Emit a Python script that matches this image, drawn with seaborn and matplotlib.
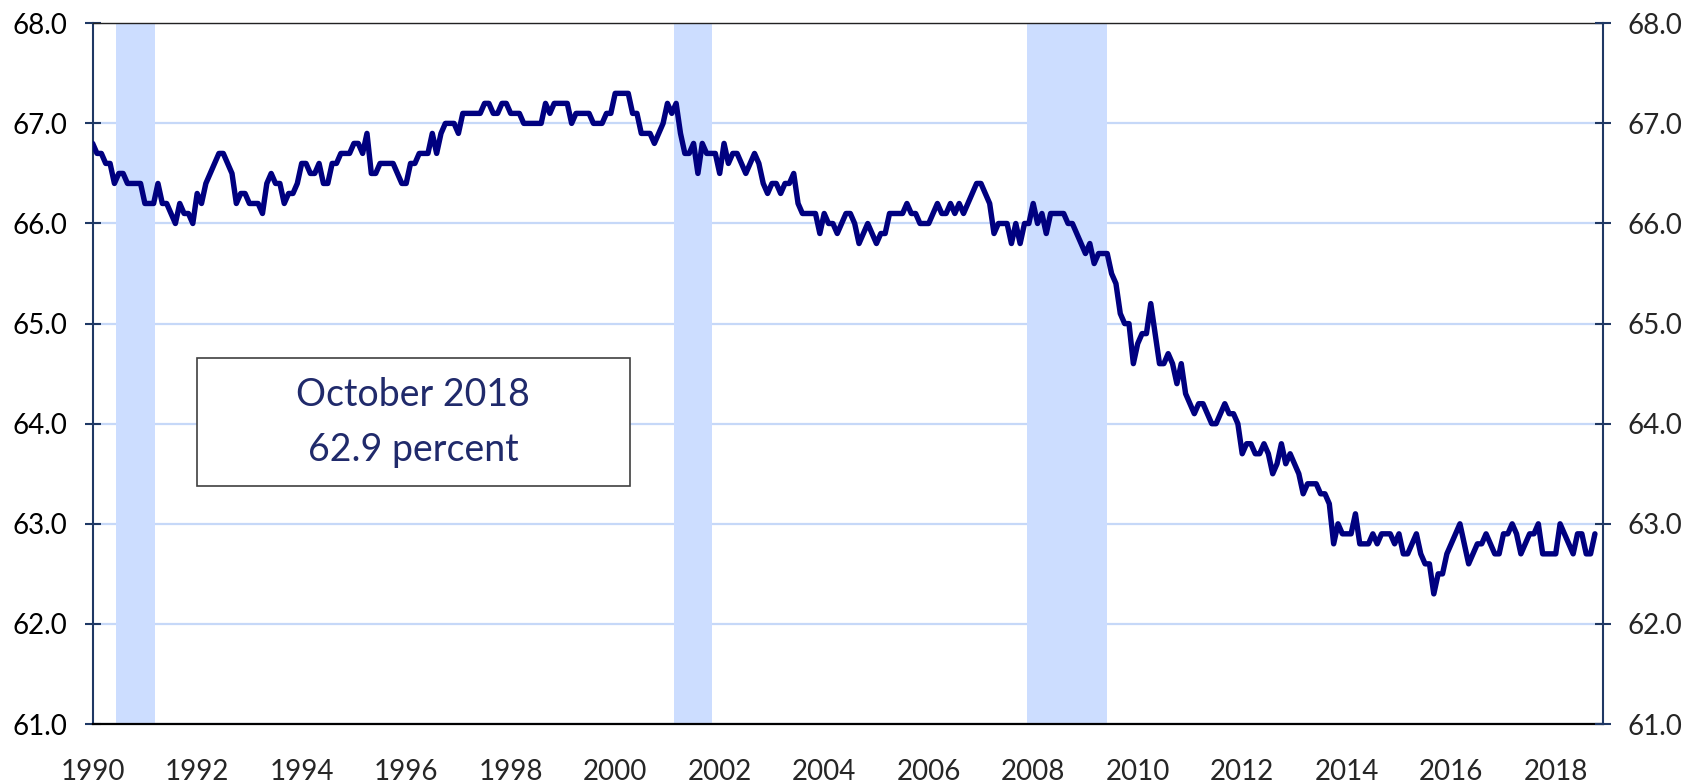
import numpy as np
import pandas as pd
import seaborn as sns
import matplotlib.pyplot as plt
from matplotlib.patches import Rectangle
from matplotlib.ticker import FormatStrFormatter

# taxa de participacao mensal (percent), jan 1990 - out 2018
taxa_1990 = [66.8, 66.7, 66.7, 66.6, 66.6, 66.4, 66.5, 66.5, 66.4, 66.4, 66.4, 66.4]
taxa_1991 = [66.2, 66.2, 66.2, 66.4, 66.2, 66.2, 66.1, 66.0, 66.2, 66.1, 66.1, 66.0]
taxa_1992 = [66.3, 66.2, 66.4, 66.5, 66.6, 66.7, 66.7, 66.6, 66.5, 66.2, 66.3, 66.3]
taxa_1993 = [66.2, 66.2, 66.2, 66.1, 66.4, 66.5, 66.4, 66.4, 66.2, 66.3, 66.3, 66.4]
taxa_1994 = [66.6, 66.6, 66.5, 66.5, 66.6, 66.4, 66.4, 66.6, 66.6, 66.7, 66.7, 66.7]
taxa_1995 = [66.8, 66.8, 66.7, 66.9, 66.5, 66.5, 66.6, 66.6, 66.6, 66.6, 66.5, 66.4]
taxa_1996 = [66.4, 66.6, 66.6, 66.7, 66.7, 66.7, 66.9, 66.7, 66.9, 67.0, 67.0, 67.0]
taxa_1997 = [66.9, 67.1, 67.1, 67.1, 67.1, 67.1, 67.2, 67.2, 67.1, 67.1, 67.2, 67.2]
taxa_1998 = [67.1, 67.1, 67.1, 67.0, 67.0, 67.0, 67.0, 67.0, 67.2, 67.1, 67.2, 67.2]
taxa_1999 = [67.2, 67.2, 67.0, 67.1, 67.1, 67.1, 67.1, 67.0, 67.0, 67.0, 67.1, 67.1]
taxa_2000 = [67.3, 67.3, 67.3, 67.3, 67.1, 67.1, 66.9, 66.9, 66.9, 66.8, 66.9, 67.0]
taxa_2001 = [67.2, 67.1, 67.2, 66.9, 66.7, 66.7, 66.8, 66.5, 66.8, 66.7, 66.7, 66.7]
taxa_2002 = [66.5, 66.8, 66.6, 66.7, 66.7, 66.6, 66.5, 66.6, 66.7, 66.6, 66.4, 66.3]
taxa_2003 = [66.4, 66.4, 66.3, 66.4, 66.4, 66.5, 66.2, 66.1, 66.1, 66.1, 66.1, 65.9]
taxa_2004 = [66.1, 66.0, 66.0, 65.9, 66.0, 66.1, 66.1, 66.0, 65.8, 65.9, 66.0, 65.9]
taxa_2005 = [65.8, 65.9, 65.9, 66.1, 66.1, 66.1, 66.1, 66.2, 66.1, 66.1, 66.0, 66.0]
taxa_2006 = [66.0, 66.1, 66.2, 66.1, 66.1, 66.2, 66.1, 66.2, 66.1, 66.2, 66.3, 66.4]
taxa_2007 = [66.4, 66.3, 66.2, 65.9, 66.0, 66.0, 66.0, 65.8, 66.0, 65.8, 66.0, 66.0]
taxa_2008 = [66.2, 66.0, 66.1, 65.9, 66.1, 66.1, 66.1, 66.1, 66.0, 66.0, 65.9, 65.8]
taxa_2009 = [65.7, 65.8, 65.6, 65.7, 65.7, 65.7, 65.5, 65.4, 65.1, 65.0, 65.0, 64.6]
taxa_2010 = [64.8, 64.9, 64.9, 65.2, 64.9, 64.6, 64.6, 64.7, 64.6, 64.4, 64.6, 64.3]
taxa_2011 = [64.2, 64.1, 64.2, 64.2, 64.1, 64.0, 64.0, 64.1, 64.2, 64.1, 64.1, 64.0]
taxa_2012 = [63.7, 63.8, 63.8, 63.7, 63.7, 63.8, 63.7, 63.5, 63.6, 63.8, 63.6, 63.7]
taxa_2013 = [63.6, 63.5, 63.3, 63.4, 63.4, 63.4, 63.3, 63.3, 63.2, 62.8, 63.0, 62.9]
taxa_2014 = [62.9, 62.9, 63.1, 62.8, 62.8, 62.8, 62.9, 62.8, 62.9, 62.9, 62.9, 62.8]
taxa_2015 = [62.9, 62.7, 62.7, 62.8, 62.9, 62.7, 62.6, 62.6, 62.3, 62.5, 62.5, 62.7]
taxa_2016 = [62.8, 62.9, 63.0, 62.8, 62.6, 62.7, 62.8, 62.8, 62.9, 62.8, 62.7, 62.7]
taxa_2017 = [62.9, 62.9, 63.0, 62.9, 62.7, 62.8, 62.9, 62.9, 63.0, 62.7, 62.7, 62.7]
taxa_2018 = [62.7, 63.0, 62.9, 62.8, 62.7, 62.9, 62.9, 62.7, 62.7, 62.9]

# recessoes (inicio, fim) em anos decimais
rec_inicio = [1990.45, 2001.13, 2007.88]
rec_fim = [1991.19, 2001.85, 2009.41]

anos_ticks = list(range(1990, 2019))
y_ticks = [61, 62, 63, 64, 65, 66, 67, 68]

caixa_linha1 = "October 2018"
caixa_linha2 = "62.9 percent"

taxa = (taxa_1990 + taxa_1991 + taxa_1992 + taxa_1993 + taxa_1994 + taxa_1995 +
        taxa_1996 + taxa_1997 + taxa_1998 + taxa_1999 + taxa_2000 + taxa_2001 +
        taxa_2002 + taxa_2003 + taxa_2004 + taxa_2005 + taxa_2006 + taxa_2007 +
        taxa_2008 + taxa_2009 + taxa_2010 + taxa_2011 + taxa_2012 + taxa_2013 +
        taxa_2014 + taxa_2015 + taxa_2016 + taxa_2017 + taxa_2018)
df = pd.DataFrame({"ano": 1990 + np.arange(len(taxa)) / 12.0, "taxa": taxa})

sns.set_style("white")
plt.rcParams['font.family'] = ['Lato', 'DejaVu Sans']

azul_eixo = '#1F3864'

fig = plt.figure(figsize=(17, 7.84), dpi=100)
ax = fig.add_axes([0.0545, 0.0765, 0.8883, 0.8938])

# faixas de recessao
for a, b in zip(rec_inicio, rec_fim):
    ax.axvspan(a, b, color='#CCDDFF', lw=0, zorder=1)

sns.lineplot(data=df, x="ano", y="taxa", color='#000080', linewidth=3.9, ax=ax, zorder=3)

ax.set_xlim(1990, 2018.9)
ax.set_ylim(61, 68)
ax.set_yticks(y_ticks)
ax.yaxis.set_major_formatter(FormatStrFormatter('%.1f'))
ax.set_xticks(anos_ticks)
ax.set_xticklabels([str(a) if a % 2 == 0 else '' for a in anos_ticks])
ax.set_xlabel('')
ax.set_ylabel('')

ax.set_axisbelow(True)
ax.yaxis.grid(True, color='#C6D8F8', lw=1.6)
ax.xaxis.grid(False)

ax.tick_params(axis='y', direction='inout', length=12, width=1.5, color=azul_eixo,
               pad=12.5, labelsize=20, labelcolor='black')
ax.tick_params(axis='x', direction='out', length=8, width=1.5, color='black',
               pad=17, labelsize=20)

ax.spines['left'].set_color(azul_eixo)
ax.spines['left'].set_linewidth(1.5)
ax.spines['bottom'].set_color('black')
ax.spines['bottom'].set_linewidth(1.6)
ax.spines['top'].set_color('#222222')
ax.spines['top'].set_linewidth(1.0)
ax.spines['right'].set_visible(False)

# eixo da direita
ax2 = ax.twinx()
ax2.set_ylim(61, 68)
ax2.set_yticks(y_ticks)
ax2.yaxis.set_major_formatter(FormatStrFormatter('%.1f'))
ax2.tick_params(axis='y', direction='inout', length=12, width=1.5, color=azul_eixo,
                pad=11.5, labelsize=20)
ax2.spines['right'].set_color(azul_eixo)
ax2.spines['right'].set_linewidth(1.5)
for s in ['left', 'top', 'bottom']:
    ax2.spines[s].set_visible(False)
ax2.grid(False)

# caixa de texto
ax.add_patch(Rectangle((1992.0, 63.38), 8.28, 1.28, facecolor='white',
                       edgecolor='#404040', lw=1.2, zorder=4))
ax.text(1996.13, 64.29, caixa_linha1, ha='center', va='center', fontsize=27,
        color='#202A6B', zorder=5)
ax.text(1996.13, 63.74, caixa_linha2, ha='center', va='center', fontsize=27,
        color='#202A6B', zorder=5)

fig.savefig("out.png", dpi=100)
